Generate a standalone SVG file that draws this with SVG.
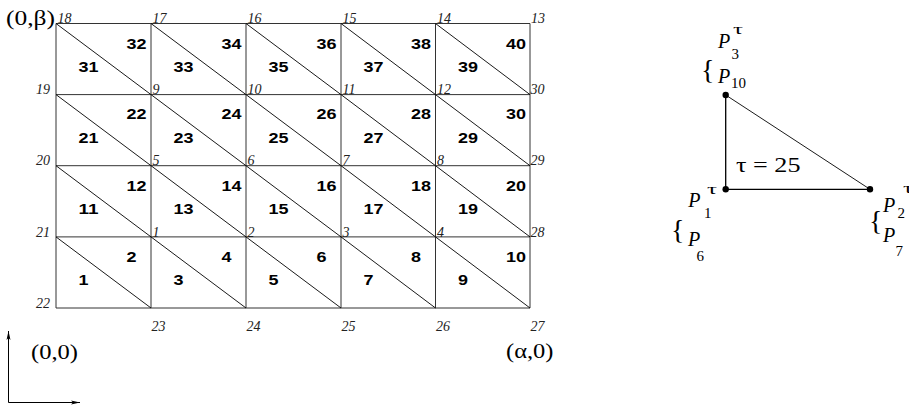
<svg xmlns="http://www.w3.org/2000/svg" width="909" height="406" viewBox="0 0 909 406">
<style>
.g{stroke:#333;stroke-width:1;fill:none}
.d{stroke:#000;stroke-width:0.9;fill:none}
.n{font-weight:bold;font-size:15px;fill:#000}
.v{font-style:italic;font-size:14px;fill:#222}
.m{font-size:21px;fill:#000}
.P{font-style:italic;font-size:20px;fill:#000}
.s{font-size:15px;fill:#000}
.b{font-size:28px;fill:#000}
</style>
<defs>
<marker id="ar" markerWidth="10" markerHeight="6" refX="9" refY="3" orient="auto" markerUnits="userSpaceOnUse">
<path d="M0,1 L9,3 L0,5 L2,3 Z" fill="#000"/>
</marker>
</defs>
<g id="connectors">
<g id="grid">
<path class="g" d="M56,23.5H530M56,94.6H530M56,165.7H530M56,236.9H530M56,308H530"/>
<path class="g" d="M56,23.5V308M151,23.5V308M246,23.5V308M341,23.5V308M435.5,23.5V308M530,23.5V308"/>
</g>
<g id="diagonals">
<path class="d" d="M56,23.5L151,94.6M151,23.5L246,94.6M246,23.5L341,94.6M341,23.5L435.5,94.6M435.5,23.5L530,94.6"/>
<path class="d" d="M56,94.6L151,165.7M151,94.6L246,165.7M246,94.6L341,165.7M341,94.6L435.5,165.7M435.5,94.6L530,165.7"/>
<path class="d" d="M56,165.7L151,236.9M151,165.7L246,236.9M246,165.7L341,236.9M341,165.7L435.5,236.9M435.5,165.7L530,236.9"/>
<path class="d" d="M56,236.9L151,308M151,236.9L246,308M246,236.9L341,308M341,236.9L435.5,308M435.5,236.9L530,308"/>
</g>
<g id="axes">
<path d="M8.5,402.5V331" stroke="#000" stroke-width="1" marker-end="url(#ar)"/>
<path d="M8.5,402.5H80" stroke="#000" stroke-width="1" marker-end="url(#ar)"/>
</g>
<g id="tri-edges">
<path d="M725.7,95V189.3H870" stroke="#000" stroke-width="1.3" fill="none"/>
<path d="M725.7,95L870,189.3" stroke="#000" stroke-width="0.9" fill="none"/>
</g>
</g>
<g id="elements" font-family="Liberation Sans, Arial, sans-serif">
<text class="n" x="78.5" y="285.4" textLength="10" lengthAdjust="spacingAndGlyphs">1</text>
<text class="n" x="126.5" y="261.7" textLength="10" lengthAdjust="spacingAndGlyphs">2</text>
<text class="n" x="173.5" y="285.4" textLength="10" lengthAdjust="spacingAndGlyphs">3</text>
<text class="n" x="221.5" y="261.7" textLength="10" lengthAdjust="spacingAndGlyphs">4</text>
<text class="n" x="268.5" y="285.4" textLength="10" lengthAdjust="spacingAndGlyphs">5</text>
<text class="n" x="316.5" y="261.7" textLength="10" lengthAdjust="spacingAndGlyphs">6</text>
<text class="n" x="363.5" y="285.4" textLength="10" lengthAdjust="spacingAndGlyphs">7</text>
<text class="n" x="411" y="261.7" textLength="10" lengthAdjust="spacingAndGlyphs">8</text>
<text class="n" x="458" y="285.4" textLength="10" lengthAdjust="spacingAndGlyphs">9</text>
<text class="n" x="506" y="261.7" textLength="20" lengthAdjust="spacingAndGlyphs">10</text>
<text class="n" x="78.5" y="214.2" textLength="20" lengthAdjust="spacingAndGlyphs">11</text>
<text class="n" x="126.5" y="190.5" textLength="20" lengthAdjust="spacingAndGlyphs">12</text>
<text class="n" x="173.5" y="214.2" textLength="20" lengthAdjust="spacingAndGlyphs">13</text>
<text class="n" x="221.5" y="190.5" textLength="20" lengthAdjust="spacingAndGlyphs">14</text>
<text class="n" x="268.5" y="214.2" textLength="20" lengthAdjust="spacingAndGlyphs">15</text>
<text class="n" x="316.5" y="190.5" textLength="20" lengthAdjust="spacingAndGlyphs">16</text>
<text class="n" x="363.5" y="214.2" textLength="20" lengthAdjust="spacingAndGlyphs">17</text>
<text class="n" x="411" y="190.5" textLength="20" lengthAdjust="spacingAndGlyphs">18</text>
<text class="n" x="458" y="214.2" textLength="20" lengthAdjust="spacingAndGlyphs">19</text>
<text class="n" x="506" y="190.5" textLength="20" lengthAdjust="spacingAndGlyphs">20</text>
<text class="n" x="78.5" y="143.1" textLength="20" lengthAdjust="spacingAndGlyphs">21</text>
<text class="n" x="126.5" y="119.4" textLength="20" lengthAdjust="spacingAndGlyphs">22</text>
<text class="n" x="173.5" y="143.1" textLength="20" lengthAdjust="spacingAndGlyphs">23</text>
<text class="n" x="221.5" y="119.4" textLength="20" lengthAdjust="spacingAndGlyphs">24</text>
<text class="n" x="268.5" y="143.1" textLength="20" lengthAdjust="spacingAndGlyphs">25</text>
<text class="n" x="316.5" y="119.4" textLength="20" lengthAdjust="spacingAndGlyphs">26</text>
<text class="n" x="363.5" y="143.1" textLength="20" lengthAdjust="spacingAndGlyphs">27</text>
<text class="n" x="411" y="119.4" textLength="20" lengthAdjust="spacingAndGlyphs">28</text>
<text class="n" x="458" y="143.1" textLength="20" lengthAdjust="spacingAndGlyphs">29</text>
<text class="n" x="506" y="119.4" textLength="20" lengthAdjust="spacingAndGlyphs">30</text>
<text class="n" x="78.5" y="72" textLength="20" lengthAdjust="spacingAndGlyphs">31</text>
<text class="n" x="126.5" y="48.5" textLength="20" lengthAdjust="spacingAndGlyphs">32</text>
<text class="n" x="173.5" y="72" textLength="20" lengthAdjust="spacingAndGlyphs">33</text>
<text class="n" x="221.5" y="48.5" textLength="20" lengthAdjust="spacingAndGlyphs">34</text>
<text class="n" x="268.5" y="72" textLength="20" lengthAdjust="spacingAndGlyphs">35</text>
<text class="n" x="316.5" y="48.5" textLength="20" lengthAdjust="spacingAndGlyphs">36</text>
<text class="n" x="363.5" y="72" textLength="20" lengthAdjust="spacingAndGlyphs">37</text>
<text class="n" x="411" y="48.5" textLength="20" lengthAdjust="spacingAndGlyphs">38</text>
<text class="n" x="458" y="72" textLength="20" lengthAdjust="spacingAndGlyphs">39</text>
<text class="n" x="506" y="48.5" textLength="20" lengthAdjust="spacingAndGlyphs">40</text>
</g>
<g id="nodes" font-family="Liberation Serif, Times New Roman, serif">
<text class="v" x="152.5" y="236.5">1</text>
<text class="v" x="247.5" y="236.5">2</text>
<text class="v" x="342.5" y="236.5">3</text>
<text class="v" x="437" y="236.5">4</text>
<text class="v" x="152.5" y="165.3">5</text>
<text class="v" x="247.5" y="165.3">6</text>
<text class="v" x="342.5" y="165.3">7</text>
<text class="v" x="437" y="165.3">8</text>
<text class="v" x="152.5" y="94.2">9</text>
<text class="v" x="247.5" y="94.2">10</text>
<text class="v" x="342.5" y="94.2">11</text>
<text class="v" x="437" y="94.2">12</text>
<text class="v" x="531" y="22.5">13</text>
<text class="v" x="437" y="22.5">14</text>
<text class="v" x="342.5" y="22.5">15</text>
<text class="v" x="247.5" y="22.5">16</text>
<text class="v" x="152.5" y="22.5">17</text>
<text class="v" x="57.5" y="22.5">18</text>
<text class="v" x="50" y="94.2" text-anchor="end">19</text>
<text class="v" x="50" y="165.3" text-anchor="end">20</text>
<text class="v" x="50" y="236.5" text-anchor="end">21</text>
<text class="v" x="50" y="307.6" text-anchor="end">22</text>
<text class="v" x="151.5" y="330.5">23</text>
<text class="v" x="246.5" y="330.5">24</text>
<text class="v" x="341.5" y="330.5">25</text>
<text class="v" x="436" y="330.5">26</text>
<text class="v" x="530.5" y="330.5">27</text>
<text class="v" x="530.5" y="236.5">28</text>
<text class="v" x="530.5" y="165.3">29</text>
<text class="v" x="530.5" y="94.2">30</text>
</g>
<g id="corner-labels" font-family="Liberation Serif, Times New Roman, serif">
<text class="m" x="6" y="25" textLength="49" lengthAdjust="spacingAndGlyphs">(0,β)</text>
<text class="m" x="31" y="358.5" textLength="47" lengthAdjust="spacingAndGlyphs">(0,0)</text>
<text class="m" x="506" y="357.5" textLength="47.5" lengthAdjust="spacingAndGlyphs">(α,0)</text>
</g>
<g id="triangle" font-family="Liberation Serif, Times New Roman, serif">
<circle cx="725.7" cy="95" r="3.2" fill="#000"/>
<circle cx="725.7" cy="189.3" r="3.2" fill="#000"/>
<circle cx="870" cy="189.3" r="3.2" fill="#000"/>
<text class="m" x="736" y="171.5" font-size="22" textLength="64.5" lengthAdjust="spacingAndGlyphs">τ = 25</text>
</g>
<g id="vertex-top" font-family="Liberation Serif, Times New Roman, serif">
<text class="P" x="718" y="48.3">P</text>
<text class="s" x="733" y="33.5" textLength="10" lengthAdjust="spacingAndGlyphs">τ</text>
<text class="s" x="731.5" y="59.3">3</text>
<text class="b" x="701" y="79">{</text>
<text class="P" x="718" y="83.3">P</text>
<text class="s" x="731" y="88">10</text>
</g>
<g id="vertex-left" font-family="Liberation Serif, Times New Roman, serif">
<text class="P" x="688.3" y="207">P</text>
<text class="s" x="707" y="193.5" textLength="10" lengthAdjust="spacingAndGlyphs">τ</text>
<text class="s" x="704" y="218.3">1</text>
<text class="b" x="671" y="238.5">{</text>
<text class="P" x="688" y="245.5">P</text>
<text class="s" x="696.5" y="260.5">6</text>
</g>
<g id="vertex-right" font-family="Liberation Serif, Times New Roman, serif">
<text class="P" x="883" y="212">P</text>
<text class="s" x="903" y="192.5" textLength="10" lengthAdjust="spacingAndGlyphs">τ</text>
<text class="s" x="897.5" y="218.3">2</text>
<text class="b" x="869" y="230">{</text>
<text class="P" x="883" y="242">P</text>
<text class="s" x="895.5" y="256">7</text>
</g>
</svg>
